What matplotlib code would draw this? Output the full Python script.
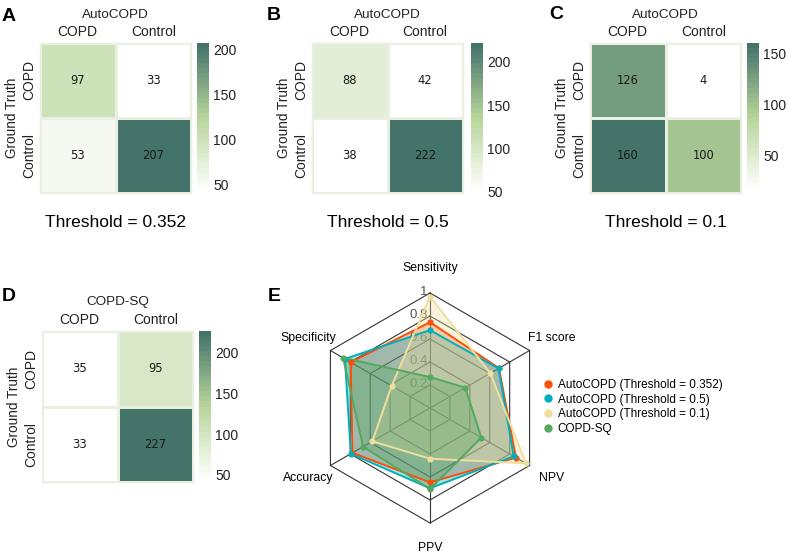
import matplotlib.pyplot as plt
import numpy as np
from matplotlib.colors import LinearSegmentedColormap
from matplotlib.lines import Line2D

plt.rcParams['font.family'] = ['Liberation Sans', 'DejaVu Sans']

# confusion matrices (rows: ground truth COPD / Control, cols: predicted COPD / Control)
cm_a = [[97, 33], [53, 207]]
cm_b = [[88, 42], [38, 222]]
cm_c = [[126, 4], [160, 100]]
cm_d = [[35, 95], [33, 227]]
class_labels = ['COPD', 'Control']
thresholds = ['Threshold = 0.352', 'Threshold = 0.5', 'Threshold = 0.1']

# radar chart values, clockwise from the top
metrics = ['Sensitivity', 'F1 score', 'NPV', 'PPV', 'Accuracy', 'Specificity']
radar_a = [0.746, 0.693, 0.863, 0.647, 0.779, 0.796]
radar_b = [0.677, 0.688, 0.841, 0.698, 0.795, 0.854]
radar_c = [0.969, 0.606, 0.962, 0.441, 0.579, 0.385]
radar_d = [0.269, 0.354, 0.515, 0.705, 0.672, 0.873]
radar_names = ['AutoCOPD (Threshold = 0.352)', 'AutoCOPD (Threshold = 0.5)',
               'AutoCOPD (Threshold = 0.1)', 'COPD-SQ']
radar_levels = [0.2, 0.4, 0.6, 0.8, 1.0]
level_labels = ['0.2', '0.4', '0.6', '0.8', '1']

W, H = 789, 554
fig = plt.figure(figsize=(W / 100, H / 100), dpi=100)

cmap = LinearSegmentedColormap.from_list(
    'cm', ['#ffffff', '#b8d59a', '#44736a'], N=30)
edge = '#e9efe1'


def px_rect(x0, y0, x1, y1):
    return [x0 / W, 1 - y1 / H, (x1 - x0) / W, (y1 - y0) / H]


def draw_cm(cm, rect, cbar_rect, title, vmin, vmax, subtitle=None):
    ax = fig.add_axes(px_rect(*rect))
    data = np.array(cm)
    mesh = ax.pcolormesh(data, cmap=cmap, vmin=vmin, vmax=vmax,
                         edgecolors=edge, linewidth=0.8)
    ax.set_xlim(0, 2)
    ax.set_ylim(2, 0)
    ax.xaxis.tick_top()
    ax.set_xticks([0.5, 1.5], class_labels)
    ax.set_yticks([0.5, 1.5], class_labels, rotation=90, va='center')
    ax.tick_params(length=0, labelsize=10, pad=3, colors='#222222')
    for sp in ax.spines.values():
        sp.set_color(edge)
        sp.set_linewidth(1)
    for i in range(2):
        for j in range(2):
            ax.text(j + 0.5, i + 0.5, str(data[i, j]), ha='center', va='center',
                    fontsize=8.3, family='DejaVu Sans', color='#1a1a1a')
    ax.text(0.5, 1.19, title, transform=ax.transAxes, ha='center', va='center',
            fontsize=9.7, color='#222222')
    ax.text(-0.185, 0.5, 'Ground Truth', transform=ax.transAxes, rotation=90,
            ha='center', va='center', fontsize=9.8, color='#222222')
    if subtitle:
        ax.text(0.5, -0.195, subtitle, transform=ax.transAxes, ha='center',
                va='center', fontsize=12.5)
    cax = fig.add_axes(px_rect(*cbar_rect))
    cb = fig.colorbar(mesh, cax=cax)
    cb.outline.set_visible(False)
    cax.tick_params(length=0, labelsize=10, pad=3, colors='#222222')


draw_cm(cm_a, (40, 43, 191, 193), (197, 43, 209, 193), 'AutoCOPD', 41, 207, thresholds[0])
draw_cm(cm_b, (312, 43, 463, 193), (471, 43, 483, 193), 'AutoCOPD', 48, 222, thresholds[1])
draw_cm(cm_c, (590, 43, 741, 193), (747, 43, 759, 193), 'AutoCOPD', 13, 160, thresholds[2])
draw_cm(cm_d, (42, 331, 193, 482), (199, 331, 211, 482), 'COPD-SQ', 41, 227)

# panel letters
for letter, x, y in [('A', 2, 21), ('B', 267, 20), ('C', 549, 19), ('D', 2, 301), ('E', 268, 301)]:
    fig.text(x / W, 1 - y / H, letter, fontsize=14, fontweight='bold', va='baseline')

# radar chart
cx, cy, rad = 430, 408, 115
ax = fig.add_axes(px_rect(cx - 1.5 * rad, cy - 1.27 * rad, cx + 1.5 * rad, cy + 1.25 * rad))
ax.set_xlim(-1.5, 1.5)
ax.set_ylim(-1.25, 1.27)
ax.set_aspect('equal')
ax.axis('off')

theta = np.pi / 2 - np.arange(len(metrics)) * 2 * np.pi / len(metrics)
ct, st = np.cos(theta), np.sin(theta)
closed = lambda a: np.append(a, a[0])

for lv in radar_levels:
    ax.plot(closed(lv * ct), closed(lv * st), color='#333333', lw=0.8, zorder=1)
for c, s in zip(ct, st):
    ax.plot([0, c], [0, s], color='#333333', lw=0.8, zorder=1)
for lv, lab in zip(radar_levels, level_labels):
    ax.text(-0.02, lv + 0.01, lab, ha='right', va='center', fontsize=9.5,
            color='#555555', zorder=1)

for lab, c, s in zip(metrics, ct, st):
    ax.text(1.22 * c, 1.22 * s, lab, ha='center', va='center', fontsize=8.8)

colors = ['#FC4E07', '#00AFBB', '#EFDF9C', '#55A860']
for vals, col in zip([radar_a, radar_b, radar_c, radar_d], colors):
    v = np.array(vals)
    ax.fill(v * ct, v * st, color=col, alpha=0.36, lw=0, zorder=2)
    ax.plot(closed(v * ct), closed(v * st), color=col, lw=1.4, zorder=3)
    ax.scatter(v * ct, v * st, s=20, color=col, zorder=4, linewidths=0)

handles = [Line2D([], [], marker='o', ls='', color=col, markersize=5) for col in colors]
fig.legend(handles, radar_names, loc='upper left', bbox_to_anchor=(541 / W, 1 - 379 / H),
           frameon=False, fontsize=8.5, handletextpad=0.2, labelspacing=0.22,
           borderpad=0, handlelength=1.2, borderaxespad=0)

fig.savefig('out.png', dpi=100)
